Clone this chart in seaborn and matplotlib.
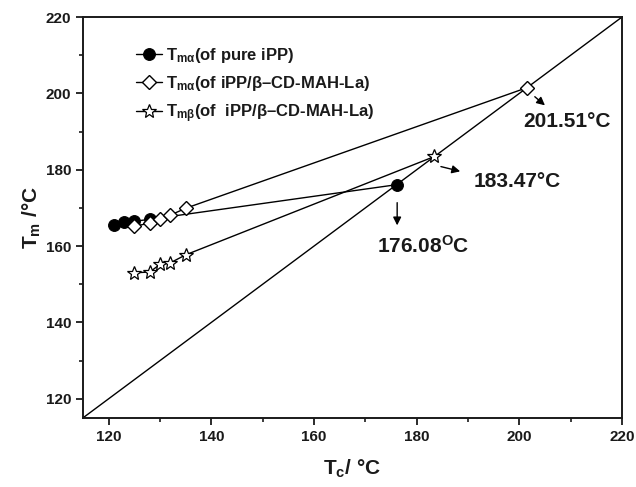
import numpy as np
import pandas as pd
import matplotlib
matplotlib.use("Agg")
import matplotlib.pyplot as plt
import seaborn as sns

# Tc / Tm values (last point = equilibrium Tm on Tm=Tc line)
tc_pure = [121.0, 123.0, 125.0, 128.0, 176.08]
tm_pure = [165.5, 166.2, 166.5, 167.0, 176.08]

tc_alpha = [125.0, 128.0, 130.0, 132.0, 135.0, 201.51]
tm_alpha = [165.2, 166.0, 167.0, 168.1, 169.9, 201.51]

tc_beta = [125.0, 128.0, 130.0, 132.0, 135.0, 183.47]
tm_beta = [153.0, 153.2, 155.2, 155.6, 157.7, 183.47]

diag = [115, 220]

labels = [
    r"T$_{m\alpha}$(of pure iPP)",
    r"T$_{m\alpha}$(of iPP/β–CD-MAH-La)",
    r"T$_{m\beta}$(of  iPP/β–CD-MAH-La)",
]

sns.set_style("ticks")
plt.rcParams["font.family"] = ["Liberation Sans", "DejaVu Sans"]
plt.rcParams["font.weight"] = "bold"
plt.rcParams["text.color"] = "#1a1a1a"
plt.rcParams["axes.labelcolor"] = "#1a1a1a"
plt.rcParams["xtick.color"] = "#1a1a1a"
plt.rcParams["ytick.color"] = "#1a1a1a"
plt.rcParams["axes.edgecolor"] = "#1a1a1a"
plt.rcParams["mathtext.fontset"] = "custom"
plt.rcParams["mathtext.rm"] = "Liberation Sans:bold"
plt.rcParams["mathtext.it"] = "Liberation Sans:bold"
plt.rcParams["mathtext.bf"] = "Liberation Sans:bold"

fig = plt.figure(figsize=(6.36, 4.87), dpi=100)
ax = fig.add_axes([0.1305, 0.142, 0.8475, 0.823])

sns.lineplot(x=diag, y=diag, color="black", lw=1.0, ax=ax)
sns.lineplot(x=tc_pure, y=tm_pure, color="black", lw=1.0, marker="o",
             markersize=8.5, markerfacecolor="black", markeredgecolor="black",
             label=labels[0], ax=ax)
sns.lineplot(x=tc_alpha, y=tm_alpha, color="black", lw=1.0, marker="D",
             markersize=7.5, markerfacecolor="white", markeredgecolor="black",
             markeredgewidth=1.0, label=labels[1], ax=ax)
sns.lineplot(x=tc_beta, y=tm_beta, color="black", lw=1.0, marker="*",
             markersize=10, markerfacecolor="white", markeredgecolor="black",
             markeredgewidth=0.9, label=labels[2], ax=ax)

ax.set_xlim(115, 220)
ax.set_ylim(115, 220)
ax.set_xticks(np.arange(120, 221, 20))
ax.set_yticks(np.arange(120, 221, 20))
ax.set_xticks(np.arange(130, 220, 20), minor=True)
ax.set_yticks(np.arange(130, 220, 20), minor=True)
ax.tick_params(which="major", direction="out", length=5, width=1.3, labelsize=11)
ax.tick_params(which="minor", direction="out", length=3, width=1.2)
for s in ax.spines.values():
    s.set_linewidth(1.4)

ax.set_xlabel("T$_c$/ °C", fontsize=15, fontweight="bold", labelpad=10)
ax.set_ylabel("T$_m$ /°C", fontsize=15, fontweight="bold", labelpad=2)

leg = ax.legend(loc="upper left", bbox_to_anchor=(0.07, 0.965), frameon=False,
                fontsize=12, handlelength=1.6, handletextpad=0.2,
                labelspacing=0.55)

arrow = dict(arrowstyle="-|>", color="black", lw=1.0, mutation_scale=12)
ax.annotate("", xy=(176.2, 164.7), xytext=(176.2, 172.1), arrowprops=arrow)
ax.text(172.3, 160.0, "176.08$^{\\mathrm{O}}$C", fontsize=15, fontweight="bold",
        ha="left", va="center")
ax.annotate("", xy=(189.0, 179.4), xytext=(184.2, 181.0), arrowprops=arrow)
ax.text(191.0, 176.8, "183.47°C", fontsize=15, fontweight="bold",
        ha="left", va="center")
ax.annotate("", xy=(205.4, 196.4), xytext=(202.6, 199.6), arrowprops=arrow)
ax.text(200.8, 192.6, "201.51°C", fontsize=15, fontweight="bold",
        ha="left", va="center")

fig.savefig("out.png", dpi=100)
